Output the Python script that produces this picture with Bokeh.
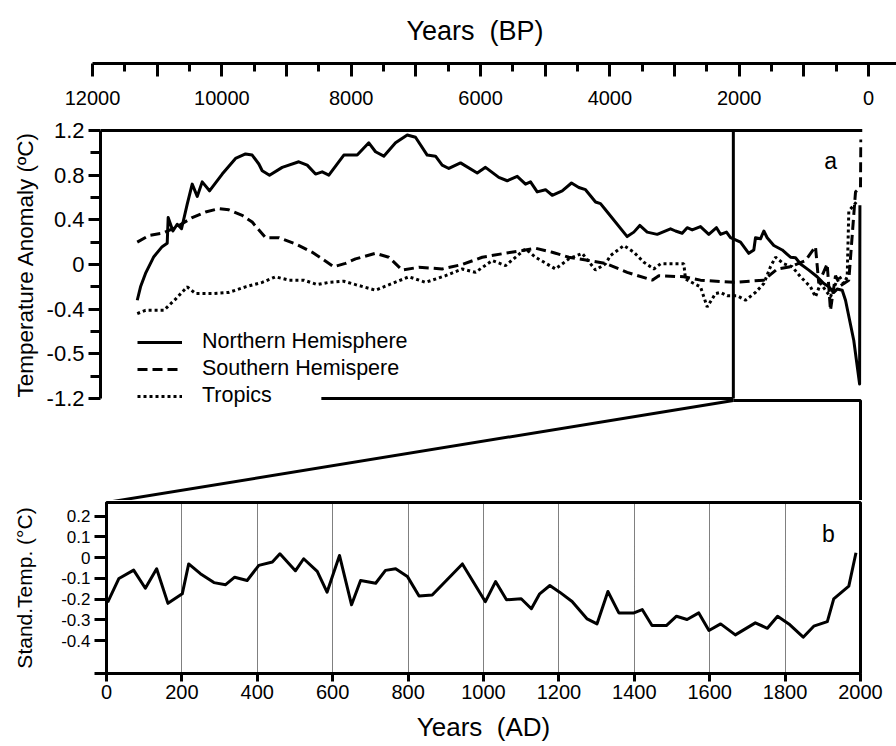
from bokeh.plotting import figure
from bokeh.layouts import column
from bokeh.models import Range1d, FixedTicker, Legend, LegendItem, Label, Title
from bokeh.embed import file_html
from bokeh.resources import INLINE

FONT = "Liberation Sans"

# ---------------- data (panel a: years BP) ----------------
nh_bp = [11231, 11180, 11103, 10974, 10845, 10767, 10752, 10679, 10612, 10545, 10457, 10380, 10302,
         10225, 10112, 9915, 9709, 9554, 9451, 9348, 9296, 9183, 8986, 8729, 8599, 8470, 8367, 8264,
         8032, 7825, 7645, 7541, 7413, 7231, 7050, 6922, 6741, 6612, 6509, 6406, 6225, 5966, 5838,
         5632, 5502, 5347, 5218, 5141, 5037, 4909, 4805, 4650, 4506, 4393, 4289, 4134, 4057, 3980,
         3644, 3541, 3449, 3334, 3179, 2973, 2896, 2792, 2715, 2637, 2509, 2380, 2261, 2199, 2106,
         2044, 1889, 1761, 1683, 1657, 1580, 1528, 1476, 1373, 1243, 1115, 1037, 960, 831, 702, 599,
         522, 444, 392, 314, 263, 135, 45, 40]
nh_t = [-0.32, -0.20, -0.08, 0.07, 0.16, 0.19, 0.42, 0.30, 0.36, 0.32, 0.54, 0.72, 0.61,
        0.74, 0.66, 0.81, 0.95, 0.99, 0.98, 0.90, 0.84, 0.80, 0.87, 0.92, 0.89, 0.81, 0.83, 0.80,
        0.98, 0.98, 1.09, 1.01, 0.97, 1.09, 1.16, 1.14, 0.98, 0.97, 0.89, 0.86, 0.91, 0.82, 0.87,
        0.78, 0.75, 0.79, 0.72, 0.74, 0.65, 0.67, 0.62, 0.66, 0.73, 0.69, 0.67, 0.56, 0.545, 0.49,
        0.25, 0.29, 0.35, 0.29, 0.27, 0.32, 0.30, 0.28, 0.33, 0.31, 0.34, 0.27, 0.33, 0.27, 0.29,
        0.24, 0.20, 0.10, 0.13, 0.24, 0.23, 0.30, 0.24, 0.17, 0.13, 0.065, 0.06, 0.005, -0.05, -0.11, -0.17,
        -0.20, -0.25, -0.22, -0.23, -0.32, -0.68, -1.07, 0.53]

sh_bp = [11231, 11051, 10845, 10638, 10380, 10174, 9968, 9813, 9606, 9451, 9244, 9039, 8780, 8521,
         8187, 8006, 7851, 7541, 7335, 7128, 6870, 6509, 6199, 5889, 5579, 5270, 5064, 4805, 4548,
         4238, 3980, 3644, 3257, 3154, 2767, 2509, 1993, 1528, 1321, 1115, 883, 728, 677, 547, 496,
         418, 341, 212, 108, 31, 25]
sh_t = [0.20, 0.26, 0.28, 0.33, 0.42, 0.47, 0.50, 0.49, 0.44, 0.38, 0.24, 0.24, 0.185, 0.11,
        -0.02, 0.01, 0.05, 0.10, 0.065, -0.05, -0.025, -0.04, 0.0, 0.065, 0.096, 0.125, 0.146, 0.11, 0.065,
        0.036, 0.01, -0.07, -0.14, -0.10, -0.11, -0.14, -0.16, -0.14, -0.04, -0.02, 0.036, 0.16, -0.17, 0.006, -0.41,
        -0.10, -0.19, -0.14, 0.65, 0.69, 1.12]

tr_bp = [11231, 11103, 10819, 10638, 10457, 10328, 10070, 9813, 9554, 9296, 9090, 8884, 8651, 8444,
         8264, 8032, 7851, 7541, 7283, 7025, 6767, 6457, 6199, 5993, 5734, 5528, 5218, 5064, 4754,
         4548, 4341, 4134, 3980, 3902, 3696, 3541, 3386, 3231, 3128, 2973, 2767, 2741, 2612, 2509,
         2405, 2276, 2199, 2095, 1940, 1812, 1657, 1528, 1425, 1347, 1219, 1089, 960, 805, 728, 650,
         496, 367, 290, 237, 212, 135, 82]
tr_t = [-0.44, -0.41, -0.41, -0.31, -0.20, -0.26, -0.26, -0.25, -0.20, -0.16, -0.11, -0.14, -0.14, -0.18,
        -0.16, -0.15, -0.18, -0.23, -0.17, -0.11, -0.16, -0.10, -0.04, -0.07, 0.036, -0.01, 0.14, 0.065, -0.04,
        0.05, 0.10, -0.05, 0.006, 0.08, 0.17, 0.11, 0.02, -0.04, 0.006, 0.006, 0.006, -0.13, -0.17, -0.20,
        -0.38, -0.26, -0.25, -0.28, -0.28, -0.32, -0.25, -0.17, -0.02, 0.065, 0.006, -0.02, -0.11, -0.20, -0.29,
        -0.17, -0.29, -0.10, -0.17, -0.11, 0.48, 0.53, 0.57]

# ---------------- data (panel b: years AD) ----------------
ad_year = [3, 33, 72, 103, 133, 163, 201, 218, 249, 285, 316, 340, 373, 404, 440, 460, 501, 523, 559,
           585, 618, 650, 674, 714, 740, 767, 798, 829, 864, 944, 1005, 1032, 1061, 1100, 1127, 1149,
           1176, 1202, 1235, 1275, 1301, 1330, 1359, 1399, 1421, 1447, 1485, 1512, 1540, 1571, 1598,
           1629, 1668, 1721, 1753, 1780, 1810, 1848, 1876, 1912, 1929, 1969, 1988]
ad_temp = [-0.215, -0.10, -0.06, -0.147, -0.053, -0.22, -0.174, -0.03, -0.077, -0.12, -0.13, -0.094,
           -0.11, -0.037, -0.021, 0.019, -0.063, -0.005, -0.066, -0.166, 0.011, -0.227, -0.11, -0.123,
           -0.061, -0.053, -0.09, -0.185, -0.18, -0.03, -0.212, -0.115, -0.203, -0.198, -0.246, -0.174,
           -0.134, -0.166, -0.211, -0.295, -0.319, -0.163, -0.266, -0.266, -0.25, -0.327, -0.327, -0.282,
           -0.298, -0.266, -0.351, -0.319, -0.372, -0.314, -0.34, -0.282, -0.319, -0.383, -0.33, -0.308,
           -0.198, -0.137, 0.024]

# ---------------- ticks / labels ----------------
bp_ticks = [12000, 11000, 10000, 9000, 8000, 7000, 6000, 5000, 4000, 3000, 2000, 1000, 0]
bp_tick_labels = ["12000", "", "10000", "", "8000", "", "6000", "", "4000", "", "2000", "", "0"]
bp_minor = [11500, 10500, 9500, 8500, 7500, 6500, 5500, 4500, 3500, 2500, 1500, 500]
a_yticks = [1.2, 0.8, 0.4, 0, -0.4, -0.8, -1.2]
a_ylabels = ["1.2", "0.8", "0.4", "0", "-0.4", "-0.5", "-1.2"]
a_yminor = [1.0, 0.6, 0.2, -0.2, -0.6, -1.0]
ad_ticks = [0, 200, 400, 600, 800, 1000, 1200, 1400, 1600, 1800, 2000]
ad_grid = [200, 400, 600, 800, 1000, 1200, 1400, 1600, 1800]
b_yticks = [0.2, 0.1, 0, -0.1, -0.2, -0.3, -0.4]
b_ylabels = ["0.2", "0.1", "0", "-0.1", "-0.2", "-0.3", "-0.4"]
zoom_start_bp = 2000

# ---------------- layout constants ----------------
W = 896
A_H, B_H, D_H = 118, 382, 246
A_LEFT = 92
B_LEFT, B_RIGHT = 100, 862
D_LEFT, D_RIGHT = 106, 860
B_X0, B_X1 = 11800, 0
B_TOP_PX, B_Y_TOP = 128, 1.218
PX_PER_UNIT = 111.66
B_FRAME_H = 372


def style_axis(ax, label_size):
    ax.axis_line_color = "black"
    ax.major_tick_line_color = "black"
    ax.minor_tick_line_color = "black"
    ax.axis_line_width = 3
    ax.major_tick_line_width = 3
    ax.minor_tick_line_width = 3
    ax.major_tick_in = 0
    ax.minor_tick_in = 0
    ax.major_label_text_font = FONT
    ax.major_label_text_font_size = label_size
    ax.major_label_text_color = "black"
    ax.axis_label_text_font = FONT
    ax.axis_label_text_font_style = "normal"
    ax.axis_label_text_color = "black"


# ---------- A: top BP axis ----------
pa = figure(width=W, height=A_H, x_range=Range1d(12000, -432), y_range=Range1d(0, 1),
            output_backend="svg", toolbar_location=None, min_border_left=A_LEFT, min_border_right=0,
            min_border_top=50, min_border_bottom=A_H - 63, y_axis_location=None,
            title="Years\u00a0 (BP)", frame_align=False)
pa.outline_line_color = None
pa.grid.visible = False
pa.title.text_font = FONT
pa.title.text_font_size = "27px"
pa.title.text_font_style = "normal"
pa.title.text_color = "black"
pa.title.align = "left"
pa.title.offset = 406 - A_LEFT
ax = pa.xaxis[0]
style_axis(ax, "20px")
ax.ticker = FixedTicker(ticks=bp_ticks, minor_ticks=bp_minor)
ax.major_label_overrides = dict(zip(bp_ticks, bp_tick_labels))
ax.major_tick_out = 13
ax.minor_tick_out = 8
ax.major_label_standoff = 14

# ---------- B: panel a (with zoom connector below it) ----------
b_y_bottom = B_Y_TOP - B_FRAME_H / PX_PER_UNIT
pb = figure(width=W, height=B_H, x_range=Range1d(B_X0, B_X1), y_range=Range1d(b_y_bottom, B_Y_TOP),
            output_backend="svg", toolbar_location=None, min_border_left=B_LEFT,
            min_border_right=W - B_RIGHT, min_border_top=B_TOP_PX - A_H, min_border_bottom=0,
            x_axis_location=None, frame_align=False)
pb.outline_line_color = None
pb.grid.visible = False
ay = pb.yaxis[0]
style_axis(ay, "22px")
ay.bounds = (-1.2, 1.2)
ay.ticker = FixedTicker(ticks=a_yticks, minor_ticks=a_yminor)
ay.major_label_overrides = dict(zip(a_yticks, a_ylabels))
ay.major_tick_out = 12
ay.minor_tick_out = 10
ay.major_label_standoff = 4
# axis title placed along the -1.2..1.2 span (the frame also holds the zoom connector)
pb.add_layout(Title(text="Temperature Anomaly  (ºC)", align="left", offset=103,
                    text_font=FONT, text_font_size="22.5px", text_font_style="normal",
                    text_color="black", standoff=12), "left")

r_nh = pb.line(nh_bp, nh_t, line_color="black", line_width=3, line_join="round")
r_sh = pb.line(sh_bp, sh_t, line_color="black", line_width=3, line_dash="10 5")
r_tr = pb.line(tr_bp, tr_t, line_color="black", line_width=3, line_dash="3 3")

# frame lines of panel a
bpx = (B_X0 - B_X1) / (B_RIGHT - B_LEFT)           # years per pixel
pb.line([B_X0, B_X1], [1.2, 1.2], line_color="black", line_width=3)
pb.line([zoom_start_bp, zoom_start_bp], [-1.2, 1.2], line_color="black", line_width=3)
pb.line([8380, zoom_start_bp], [-1.2, -1.2], line_color="black", line_width=3)
# zoom connector towards panel b
y_box = -1.2 - 2 / PX_PER_UNIT
x_right = B_X1 + (B_RIGHT - D_RIGHT) * bpx
x_left = B_X0 - (D_LEFT - B_LEFT) * bpx
pb.line([zoom_start_bp, x_right, x_right], [y_box, y_box, b_y_bottom - 0.05],
        line_color="black", line_width=3)
pb.line([zoom_start_bp, x_left], [y_box, b_y_bottom - 2 / PX_PER_UNIT], line_color="black", line_width=3)

pb.add_layout(Label(x=495, y=0.93, text="a", text_font=FONT, text_font_size="23px",
                    text_color="black", text_align="center", text_baseline="middle"))

legend = Legend(items=[LegendItem(label="Northern Hemisphere", renderers=[r_nh]),
                       LegendItem(label="Southern Hemispere", renderers=[r_sh]),
                       LegendItem(label="Tropics", renderers=[r_tr])],
                location=(37, 500 - 408), border_line_color=None, background_fill_alpha=0,
                label_text_font=FONT, label_text_font_size="21.5px", label_text_color="black",
                glyph_width=45, glyph_height=20, label_height=20, label_standoff=20, spacing=2,
                padding=0, margin=0)
pb.add_layout(legend)

# ---------- D: panel b ----------
pd_ = figure(width=W, height=D_H, x_range=Range1d(0, 2000), y_range=Range1d(-0.558, 0.266),
             output_backend="svg", toolbar_location=None, min_border_left=D_LEFT,
             min_border_right=W - D_RIGHT, min_border_top=2, min_border_bottom=D_H - 2 - 171,
             frame_align=False)
pd_.outline_line_color = "black"
pd_.outline_line_width = 3
pd_.ygrid.visible = False
pd_.xgrid.ticker = FixedTicker(ticks=ad_grid)
pd_.xgrid.grid_line_color = "black"
pd_.xgrid.grid_line_width = 1
pd_.xgrid.grid_line_dash = "1 1"
bx = pd_.xaxis[0]
style_axis(bx, "20px")
bx.ticker = FixedTicker(ticks=ad_ticks, minor_ticks=[])
bx.major_tick_out = 8
bx.major_label_standoff = 3
bx.axis_label = "Years\u00a0 (AD)"
bx.axis_label_text_font_size = "26px"
bx.axis_label_standoff = 10
by = pd_.yaxis[0]
style_axis(by, "17px")
by.ticker = FixedTicker(ticks=b_yticks, minor_ticks=[-0.558])
by.major_label_overrides = dict(zip(b_yticks, b_ylabels))
by.major_tick_out = 12
by.minor_tick_out = 12
by.major_label_standoff = 4
by.axis_label = "Stand.Temp. (°C)"
by.axis_label_text_font_size = "21px"
by.axis_label_standoff = 22

pd_.line(ad_year, ad_temp, line_color="black", line_width=3, line_join="round")
pd_.add_layout(Label(x=1915, y=0.113, text="b", text_font=FONT, text_font_size="23px",
                     text_color="black", text_align="center", text_baseline="middle"))

layout = column(pa, pb, pd_, spacing=0)
open("out.html", "w").write(file_html(layout, INLINE))
